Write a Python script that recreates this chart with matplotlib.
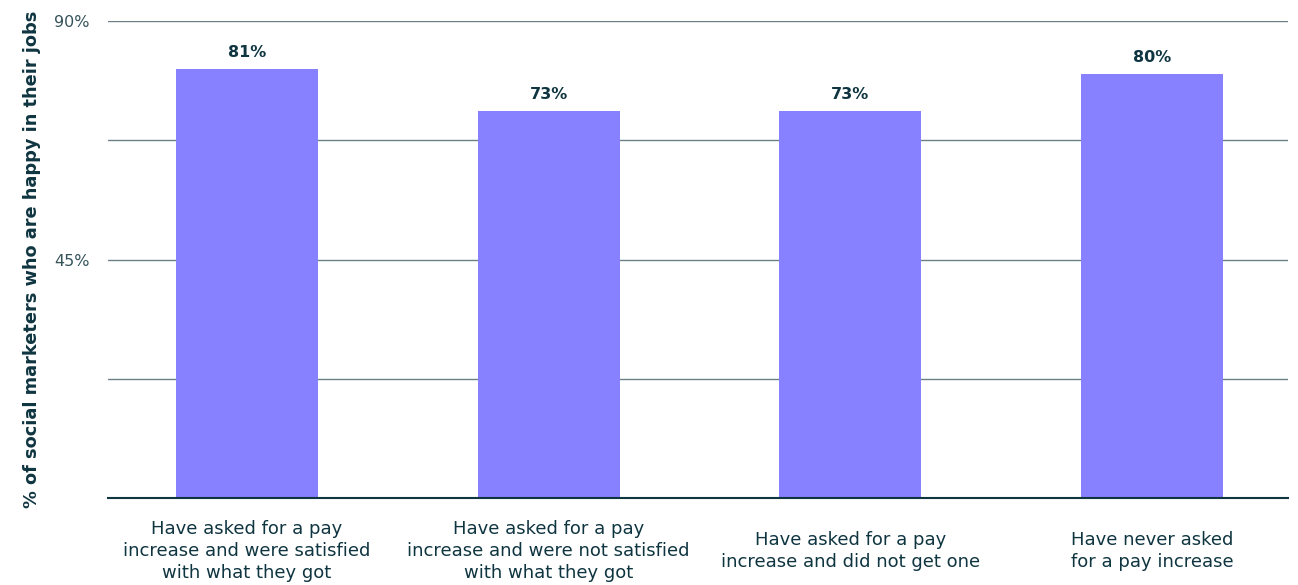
import matplotlib.pyplot as plt
import matplotlib.transforms as mtransforms
import numpy as np

plt.rcParams['font.family'] = ['DejaVu Sans']

categories = [
    "Have asked for a pay\nincrease and were satisfied\nwith what they got",
    "Have asked for a pay\nincrease and were not satisfied\nwith what they got",
    "Have asked for a pay\nincrease and did not get one",
    "Have never asked\nfor a pay increase",
]
happy_pct = [81, 73, 73, 80]
y_ticks = [0, 22.5, 45, 67.5, 90]
y_tick_labels = ["", "", "45%", "", "90%"]

bar_color = "#8780ff"
text_color = "#0f3541"
grid_color = "#6b8086"

fig = plt.figure(figsize=(12.98, 5.85), dpi=100)
ax = fig.add_axes([108 / 1298, 1 - 498 / 585, 1180 / 1298, 477 / 585])

x = np.arange(len(categories))
ax.bar(x, happy_pct, width=0.47, color=bar_color, zorder=3)

# value labels above each bar
for xi, v in zip(x, happy_pct):
    ax.text(xi, v + 3.1, f"{v}%", ha="center", va="center", fontsize=11.5,
            fontweight="bold", color=text_color)

ax.set_xlim(-0.461, 3.451)
ax.set_ylim(0, 90)
ax.set_yticks(y_ticks)
ax.set_yticklabels(y_tick_labels, fontsize=11.5, color="#36535b")
ax.tick_params(axis="y", length=0, pad=13)
ax.set_xticks([])

ax.grid(axis="y", color=grid_color, linewidth=1, zorder=0)
for side in ["top", "right", "left"]:
    ax.spines[side].set_visible(False)
ax.spines["bottom"].set_color(text_color)
ax.spines["bottom"].set_linewidth(1.5)
ax.spines["bottom"].set_zorder(4)

# category labels centred under bars
trans = mtransforms.blended_transform_factory(ax.transData, ax.transAxes)
for xi, label in zip(x, categories):
    ax.text(xi, -53 / 477, label, transform=trans, ha="center", va="center",
            fontsize=13, color=text_color, linespacing=1.3)

fig.text(32 / 1298, 1 - 259 / 585, "% of social marketers who are happy in their jobs",
         rotation=90, ha="center", va="center", fontsize=12.8,
         fontweight="bold", color=text_color)

fig.savefig("out.png", dpi=100)
